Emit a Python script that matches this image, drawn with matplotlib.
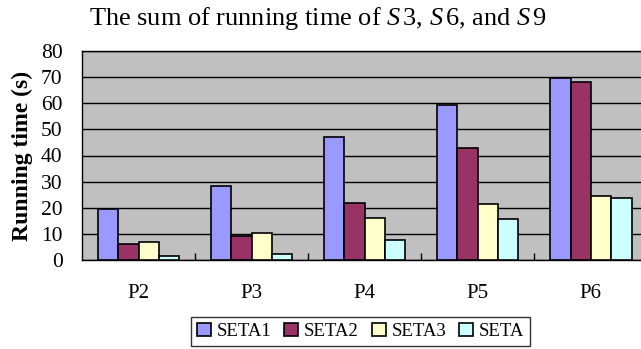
import matplotlib
matplotlib.use("Agg")
import matplotlib.pyplot as plt
import numpy as np

categories = ["P2", "P3", "P4", "P5", "P6"]
series_names = ["SETA1", "SETA2", "SETA3", "SETA"]
seta1 = [19.5, 28.5, 47.0, 59.2, 69.5]
seta2 = [6.0, 9.2, 22.0, 42.7, 68.0]
seta3 = [6.7, 10.3, 16.2, 21.4, 24.6]
seta = [1.4, 2.4, 7.7, 15.6, 23.6]
colors = ["#9999FF", "#993366", "#FFFFCC", "#CCFFFF"]

plt.rcParams['font.family'] = ['Liberation Serif', 'DejaVu Serif']
plt.rcParams['mathtext.fontset'] = 'custom'
plt.rcParams['mathtext.it'] = 'Liberation Serif:italic'
plt.rcParams['mathtext.rm'] = 'Liberation Serif'

fig = plt.figure(figsize=(6.41, 3.49), dpi=100)
ax = fig.add_axes([82/641, 89/349, 1 - 82/641 + 0.01, 209/349])
ax.set_facecolor("#C0C0C0")

x = np.arange(len(categories))
w = 0.18
data = [seta1, seta2, seta3, seta]
for i, (vals, c, name) in enumerate(zip(data, colors, series_names)):
    ax.bar(x + (i - 1.5) * w, vals, width=w, color=c, edgecolor="black",
           linewidth=1.2, label=name, zorder=3)

ax.set_xlim(-0.5, 4.5)
ax.set_ylim(0, 80)
ax.set_yticks(range(0, 81, 10))
ax.yaxis.grid(True, color="black", linewidth=1.0, zorder=0)
ax.set_axisbelow(True)
ax.tick_params(axis='y', length=0, pad=14, labelsize=15.5)

ax.set_xticks([0.5, 1.5, 2.5, 3.5])
ax.set_xticklabels([])
ax.tick_params(axis='x', which='major', direction='in', length=5, width=1)
ax.set_xticks(x, minor=True)
ax.set_xticklabels(categories, minor=True)
ax.tick_params(axis='x', which='minor', length=0, pad=17, labelsize=15)

ax.spines["right"].set_visible(False)
for s in ["left", "bottom", "top"]:
    ax.spines[s].set_color("black")
    ax.spines[s].set_linewidth(1.0)

fig.text(22/641, (89 + 298) / 2 / 349, "Running time (s)", rotation=90,
         ha="center", va="center", fontsize=17, fontweight="bold")

fig.text(0.496, 0.948, "The sum of running time of $S\\,$3, $S\\,$6, and $S\\,$9",
         ha="center", va="center", fontsize=19)

leg = fig.legend(loc="upper center", bbox_to_anchor=(0.5624, 0.092), ncol=4,
                 frameon=True, fancybox=False, edgecolor="black", fontsize=13.5,
                 handlelength=0.75, handleheight=0.75, handletextpad=0.3,
                 columnspacing=0.7, borderpad=0.3, borderaxespad=0)
leg.get_frame().set_linewidth(1.0)

fig.savefig("out.png", dpi=100)
